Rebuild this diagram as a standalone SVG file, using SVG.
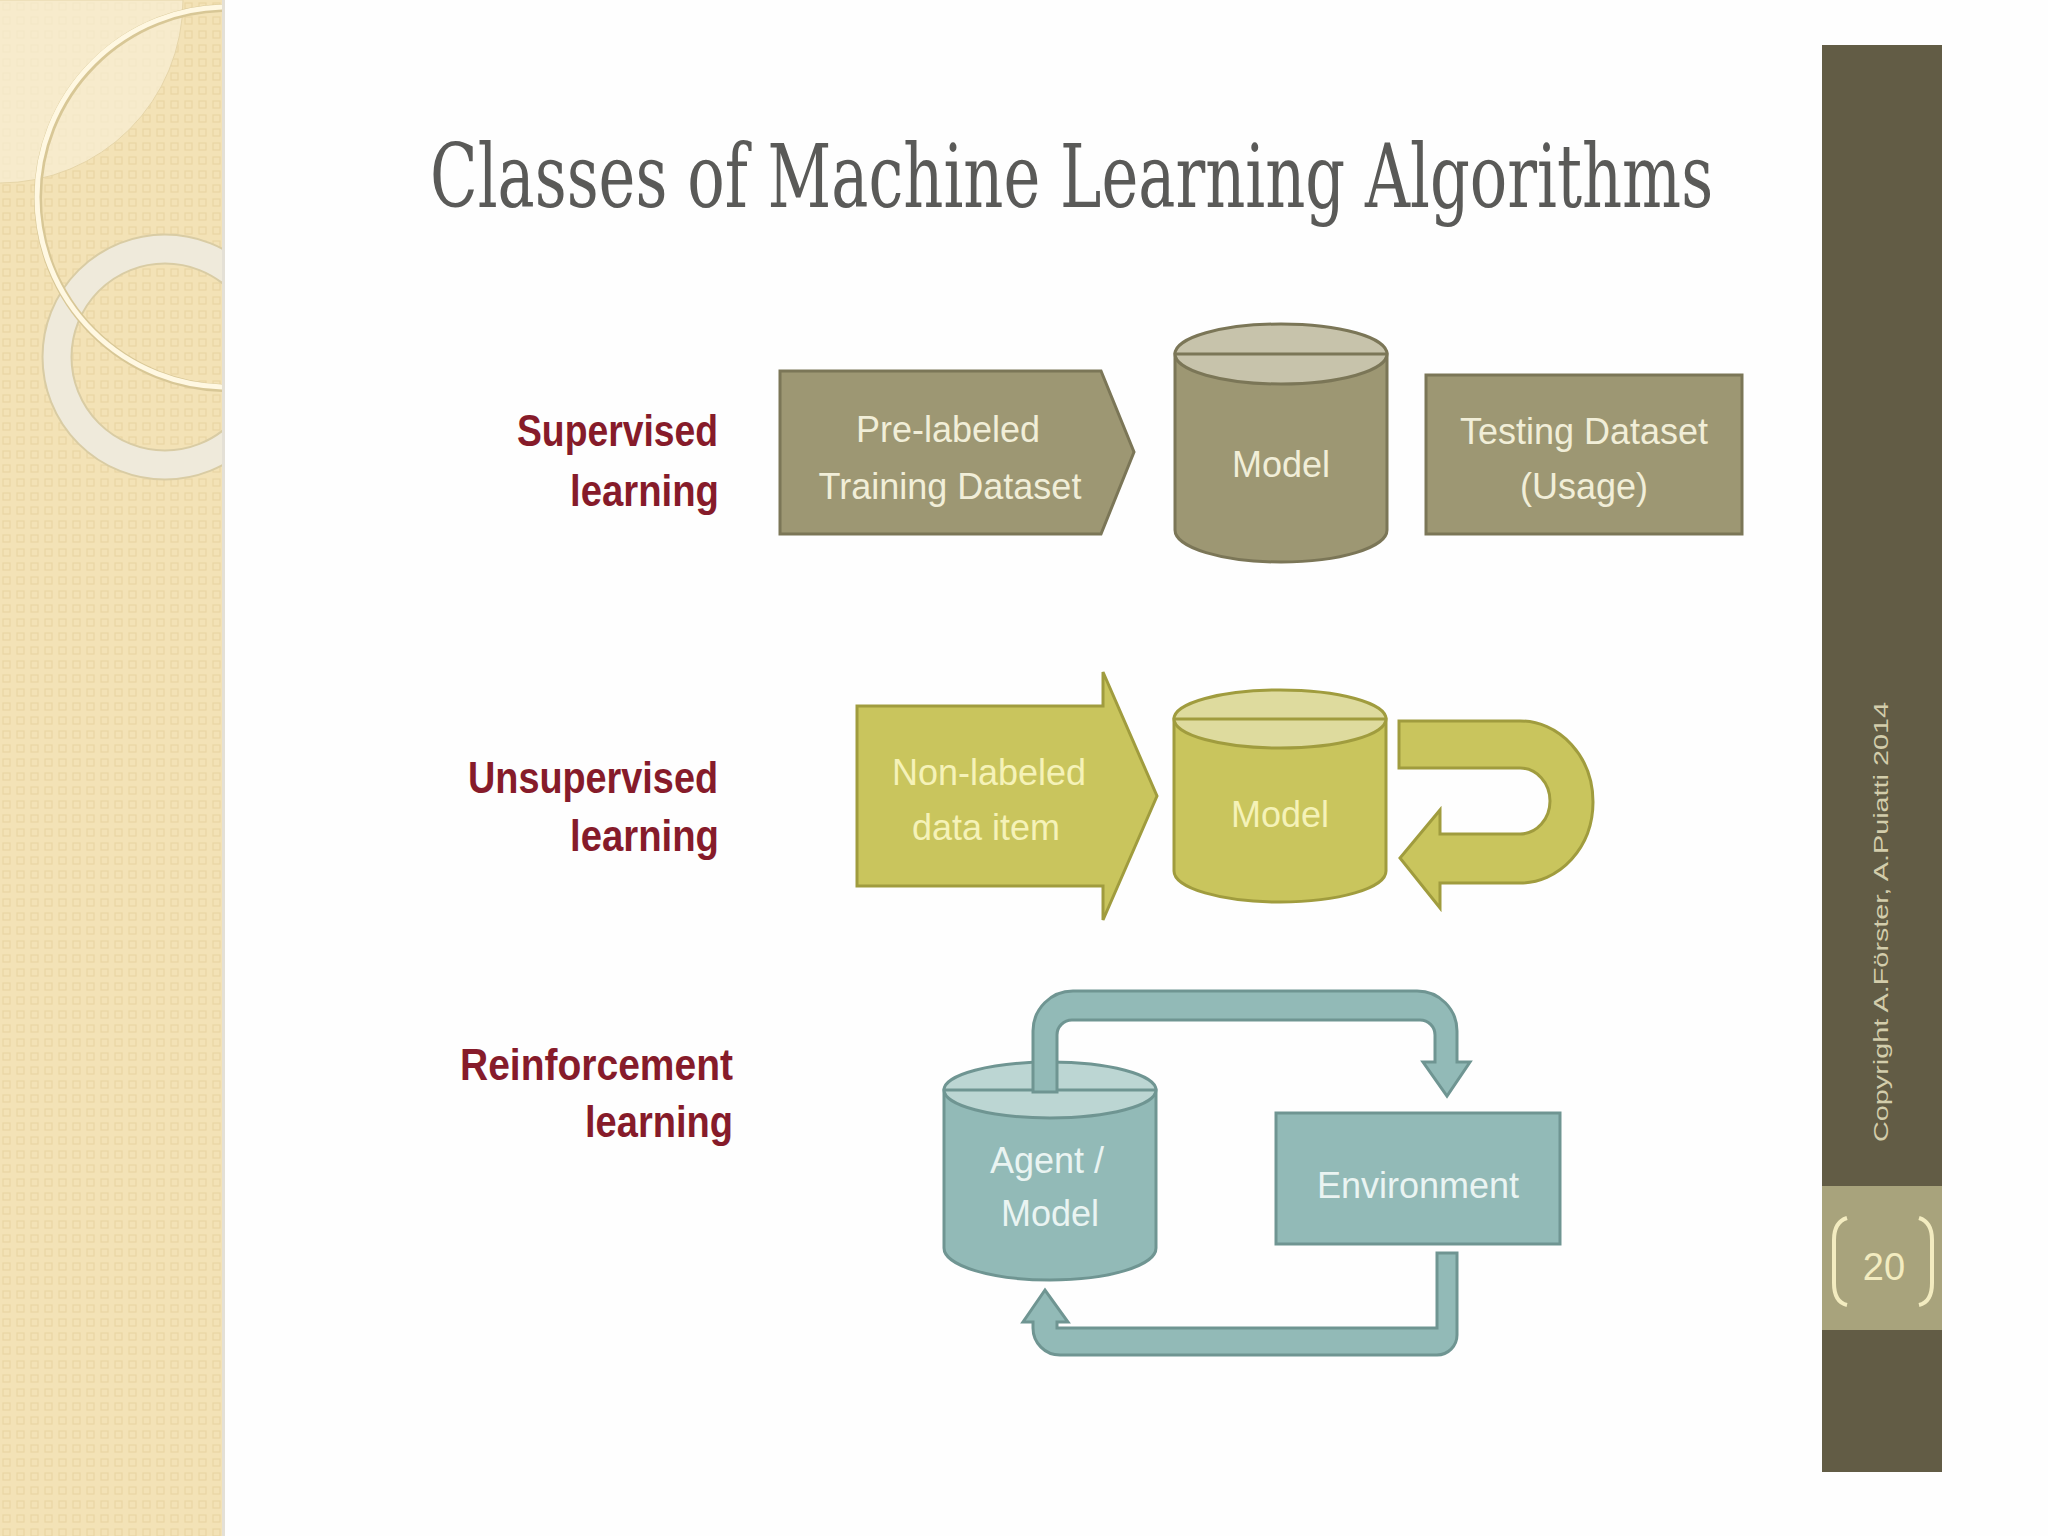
<svg xmlns="http://www.w3.org/2000/svg" width="2048" height="1536" viewBox="0 0 2048 1536">
<defs>
<style>
.title{font-family:"DejaVu Serif","Liberation Serif",serif;font-size:88px;fill:#5a5a58}
.lbl{font-family:"Liberation Sans",Arial,sans-serif;font-weight:bold;font-size:44px;fill:#861b2a;text-anchor:end}
.t{font-family:"Liberation Sans",Arial,sans-serif;font-size:36px;text-anchor:middle}
.sup{fill:#9d9773;stroke:#7b7657;stroke-width:3}
.supTop{fill:#c7c3ab;stroke:#7b7657;stroke-width:3}
.supT{fill:#f1eed8}
.uns{fill:#c9c55d;stroke:#a09c3e;stroke-width:3}
.unsTop{fill:#dedb9e;stroke:#a09c3e;stroke-width:3}
.unsT{fill:#f5f2b8}
.rei{fill:#92bab7;stroke:#6f9592;stroke-width:3}
.reiTop{fill:#bcd6d3;stroke:#6f9592;stroke-width:3}
.reiT{fill:#eaf4f2}
</style>
<pattern id="dots" x="0" y="0" width="14" height="14" patternUnits="userSpaceOnUse">
<rect x="3" y="3" width="7" height="7" fill="none" stroke="#ead6a3" stroke-width="1.2"/>
</pattern>
<clipPath id="panel"><rect x="0" y="0" width="222" height="1536"/></clipPath>
</defs>
<rect x="0" y="0" width="2048" height="1536" fill="#fefefe"/>
<g id="left-panel" clip-path="url(#panel)">
<rect x="0" y="0" width="222" height="1536" fill="#f3e2b6"/>
<rect x="0" y="0" width="222" height="1536" fill="url(#dots)"/>
<path d="M0,0 L183,0 A183,183 0 0 1 0,183 Z" fill="#f8efd6" opacity="0.7"/>
<path d="M0,0 L183,0 A183,183 0 0 1 0,183" fill="none" stroke="#e6d5a8" stroke-width="1"/>
<circle cx="165" cy="357" r="108" fill="none" stroke="#d9cca4" stroke-width="31"/>
<circle cx="165" cy="357" r="108" fill="none" stroke="#efeadb" stroke-width="27"/>
<circle cx="228" cy="198" r="190" fill="none" stroke="#d8c796" stroke-width="8"/>
<circle cx="227" cy="197" r="190" fill="none" stroke="#fff8e2" stroke-width="5"/>
</g>
<rect x="222" y="0" width="3" height="1536" fill="#e4e0d6"/>
<g id="title"><text class="title" x="0" y="0" transform="translate(430,207) scale(0.7,1)" textLength="1833" lengthAdjust="spacingAndGlyphs">Classes of Machine Learning Algorithms</text></g>
<g id="labels">
<text class="lbl" x="718" y="446" textLength="201" lengthAdjust="spacingAndGlyphs">Supervised</text>
<text class="lbl" x="719" y="506" textLength="149" lengthAdjust="spacingAndGlyphs">learning</text>
<text class="lbl" x="718" y="793" textLength="250" lengthAdjust="spacingAndGlyphs">Unsupervised</text>
<text class="lbl" x="719" y="851" textLength="149" lengthAdjust="spacingAndGlyphs">learning</text>
<text class="lbl" x="733" y="1080" textLength="273" lengthAdjust="spacingAndGlyphs">Reinforcement</text>
<text class="lbl" x="733" y="1137" textLength="148" lengthAdjust="spacingAndGlyphs">learning</text>
</g>
<g id="sup-training">
<path class="sup" d="M780,371 L1101,371 L1134,452 L1101,534 L780,534 Z"/>
<text class="t supT" x="948" y="442">Pre-labeled</text>
<text class="t supT" x="950" y="499">Training Dataset</text>
</g>
<g id="sup-model">
<path class="sup" d="M1175,354 L1175,530 A106,32 0 0 0 1387,530 L1387,354 Z"/>
<ellipse class="supTop" cx="1281" cy="354" rx="106" ry="30"/>
<line x1="1175" y1="354" x2="1387" y2="354" stroke="#7b7657" stroke-width="3"/>
<text class="t supT" x="1281" y="477">Model</text>
</g>
<g id="sup-testing">
<rect class="sup" x="1426" y="375" width="316" height="159"/>
<text class="t supT" x="1584" y="444">Testing Dataset</text>
<text class="t supT" x="1584" y="499">(Usage)</text>
</g>
<g id="uns-data">
<path class="uns" d="M857,706 L1103,706 L1103,672 L1157,796 L1103,920 L1103,886 L857,886 Z"/>
<text class="t unsT" x="989" y="785">Non-labeled</text>
<text class="t unsT" x="986" y="840">data item</text>
</g>
<g id="uns-model">
<path class="uns" d="M1174,719 L1174,871 A106,31 0 0 0 1386,871 L1386,719 Z"/>
<ellipse class="unsTop" cx="1280" cy="719" rx="106" ry="29"/>
<line x1="1174" y1="719" x2="1386" y2="719" stroke="#a09c3e" stroke-width="3"/>
<text class="t unsT" x="1280" y="827">Model</text>
</g>
<g id="rei-agent">
<path class="rei" d="M944,1090 L944,1248 A106,32 0 0 0 1156,1248 L1156,1090 Z"/>
<ellipse class="reiTop" cx="1050" cy="1090" rx="106" ry="28"/>
<line x1="944" y1="1090" x2="1156" y2="1090" stroke="#6f9592" stroke-width="3"/>
<text class="t reiT" x="1047" y="1173">Agent /</text>
<text class="t reiT" x="1050" y="1226">Model</text>
</g>
<g id="rei-environment">
<rect class="rei" x="1276" y="1113" width="284" height="131"/>
<text class="t reiT" x="1418" y="1198">Environment</text>
</g>
<g id="connectors">
<path class="uns" d="M1399,721 L1520,721 A73,81 0 0 1 1520,883 L1440,883 L1440,908 L1400,858 L1440,810 L1440,834 L1520,834 A30,33 0 0 0 1520,768 L1399,768 Z"/>
<path class="rei" d="M1033,1092 L1033,1031 A40,40 0 0 1 1073,991 L1417,991 A40,40 0 0 1 1457,1031 L1457,1062 L1470,1062 L1447,1096 L1423,1062 L1435,1062 L1435,1035 A15,15 0 0 0 1420,1020 L1072,1020 A15,15 0 0 0 1057,1035 L1057,1092 Z"/>
<path class="rei" d="M1457,1253 L1457,1335 A20,20 0 0 1 1437,1355 L1060,1355 A27,27 0 0 1 1033,1328 L1033,1322 L1023,1322 L1045,1290 L1068,1322 L1057,1322 L1057,1328 L1437,1328 L1437,1253 Z"/>
</g>
<g id="side-bar">
<rect x="1822" y="45" width="120" height="1427" fill="#625c45"/>
<rect x="1822" y="1186" width="120" height="144" fill="#a8a37c"/>
<text x="0" y="0" transform="translate(1888,922) rotate(-90)" font-family="'Liberation Sans',Arial,sans-serif" font-size="20" fill="#d3cdab" text-anchor="middle" textLength="440" lengthAdjust="spacingAndGlyphs">Copyright A.Förster, A.Puiatti 2014</text>
<path d="M1847,1218 Q1834,1222 1834,1240 L1834,1283 Q1834,1302 1847,1305" fill="none" stroke="#f3ecc0" stroke-width="4"/>
<path d="M1919,1218 Q1932,1222 1932,1240 L1932,1283 Q1932,1302 1919,1305" fill="none" stroke="#f3ecc0" stroke-width="4"/>
<text x="1884" y="1280" font-family="'Liberation Sans',Arial,sans-serif" font-size="38" fill="#f3ecc0" text-anchor="middle">20</text>
</g>
</svg>
